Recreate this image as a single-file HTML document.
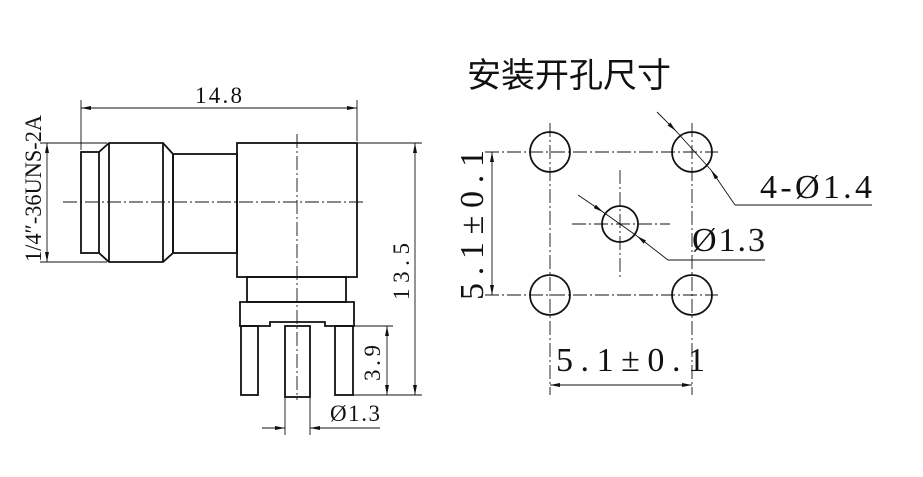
<!DOCTYPE html>
<html><head><meta charset="utf-8"><style>
html,body{margin:0;padding:0;background:#fff;width:923px;height:477px;overflow:hidden}
svg{display:block}
text{font-family:"Liberation Serif","Noto Serif CJK SC",serif;fill:#111}
</style></head><body>
<svg width="923" height="477" viewBox="0 0 923 477" xmlns="http://www.w3.org/2000/svg">
<defs>
<marker id="a" viewBox="0 0 10 4" refX="10" refY="2" markerWidth="10" markerHeight="4" orient="auto-start-reverse" markerUnits="userSpaceOnUse"><path d="M0,0 L10,2 L0,4z" fill="#111"/></marker>
</defs>
<g stroke="#111" fill="none" stroke-width="1.8">
<rect x="81" y="152" width="18" height="101"/>
<path d="M99,152 L109,143 L163,143 L173,154 L173,253 L163,262 L109,262 L99,253"/>
<line x1="109" y1="143" x2="109" y2="262"/>
<line x1="163" y1="143" x2="163" y2="262"/>
<rect x="173" y="154" width="64" height="99"/>
<rect x="237" y="143" width="120" height="134"/>
<rect x="247" y="277" width="99" height="25"/>
<path d="M240,302 H354 V326 H325 V322 H270 V326 H240 Z"/>
<rect x="241" y="326" width="17" height="69"/>
<rect x="285" y="326" width="25" height="71"/>
<rect x="335" y="326" width="18" height="69"/>
</g>
<g stroke="#111" fill="none" stroke-width="0.9">
<line x1="63" y1="202" x2="366" y2="202" stroke-dasharray="14,3,2,3"/>
<line x1="297" y1="134" x2="297" y2="400" stroke-dasharray="14,3,2,3"/>
<line x1="81" y1="100" x2="81" y2="150"/><line x1="357" y1="100" x2="357" y2="141"/>
<line x1="81" y1="108" x2="357" y2="108" marker-start="url(#a)" marker-end="url(#a)"/>
<line x1="40" y1="143" x2="107" y2="143"/><line x1="40" y1="262" x2="107" y2="262"/>
<line x1="47" y1="143" x2="47" y2="262" marker-start="url(#a)" marker-end="url(#a)"/>
<line x1="357" y1="143" x2="422" y2="143"/><line x1="353" y1="395" x2="422" y2="395"/>
<line x1="415" y1="143" x2="415" y2="395" marker-start="url(#a)" marker-end="url(#a)"/>
<line x1="354" y1="326" x2="393" y2="326"/>
<line x1="387" y1="326" x2="387" y2="395" marker-start="url(#a)" marker-end="url(#a)"/>
<line x1="285" y1="397" x2="285" y2="435"/><line x1="310" y1="397" x2="310" y2="435"/>
<line x1="262" y1="428" x2="285" y2="428" marker-end="url(#a)"/>
<line x1="310" y1="428" x2="380" y2="428" marker-start="url(#a)"/>
</g>
<text x="195" y="103" font-size="23" textLength="47" lengthAdjust="spacing">14.8</text>
<text transform="translate(41,262) rotate(-90)" font-size="23" textLength="147" lengthAdjust="spacingAndGlyphs">1/4″-36UNS-2A</text>
<text transform="translate(409,300) rotate(-90)" font-size="23" textLength="57" lengthAdjust="spacing">13.5</text>
<text transform="translate(380,381) rotate(-90)" font-size="23" textLength="36" lengthAdjust="spacing">3.9</text>
<text x="330" y="421" font-size="23" textLength="50" lengthAdjust="spacing">Ø1.3</text>

<text x="467" y="87" font-size="34" style="font-family:'Noto Sans CJK SC',sans-serif">安装开孔尺寸</text>
<g stroke="#111" fill="none" stroke-width="0.9">
<line x1="485" y1="152" x2="718" y2="152" stroke-dasharray="14,3,2,3"/>
<line x1="485" y1="295" x2="718" y2="295" stroke-dasharray="14,3,2,3"/>
<line x1="550" y1="123" x2="550" y2="395" stroke-dasharray="14,3,2,3"/>
<line x1="692" y1="123" x2="692" y2="395" stroke-dasharray="14,3,2,3"/>
<line x1="620" y1="170" x2="620" y2="278" stroke-dasharray="14,3,2,3"/>
<line x1="572" y1="224" x2="670" y2="224" stroke-dasharray="14,3,2,3"/>
<line x1="492" y1="152" x2="492" y2="295" marker-start="url(#a)" marker-end="url(#a)"/>
<line x1="550" y1="385" x2="692" y2="385" marker-start="url(#a)" marker-end="url(#a)"/>
<line x1="657" y1="112" x2="676" y2="131" marker-end="url(#a)"/>
<line x1="676" y1="131" x2="711" y2="170"/>
<line x1="711" y1="170" x2="735" y2="205" marker-start="url(#a)"/>
<line x1="735" y1="205" x2="872" y2="205"/>
<line x1="578" y1="195" x2="603" y2="212" marker-end="url(#a)"/>
<line x1="603" y1="212" x2="637" y2="236"/>
<line x1="637" y1="236" x2="668" y2="260" marker-start="url(#a)"/>
<line x1="668" y1="260" x2="765" y2="260"/>
</g>
<g stroke="#111" fill="none" stroke-width="1.8">
<circle cx="550" cy="152" r="20"/><circle cx="692" cy="152" r="20"/>
<circle cx="550" cy="295" r="20"/><circle cx="692" cy="295" r="20"/>
<circle cx="620" cy="224" r="18"/>
</g>
<text x="760" y="198" font-size="34" textLength="112" lengthAdjust="spacing">4-Ø1.4</text>
<text x="692" y="251" font-size="34" textLength="73" lengthAdjust="spacing">Ø1.3</text>
<text x="556" y="371" font-size="34" textLength="149" lengthAdjust="spacing">5.1±0.1</text>
<text transform="translate(483,300) rotate(-90)" font-size="34" textLength="150" lengthAdjust="spacing">5.1±0.1</text>
</svg>
</body></html>
